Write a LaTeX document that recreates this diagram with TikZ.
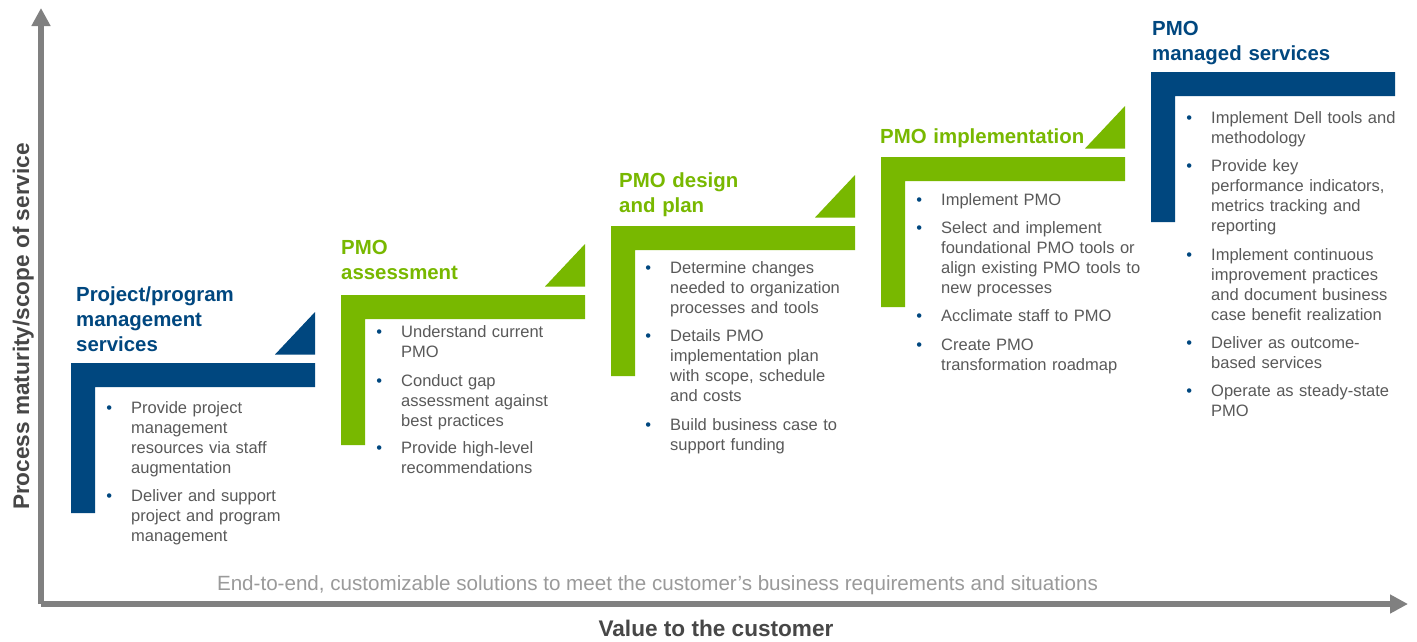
\documentclass[tikz,border=0pt]{standalone}
\usepackage{fontspec}
\setmainfont{Liberation Sans}
\usetikzlibrary{arrows.meta}
\definecolor{dblue}{HTML}{00477F}
\definecolor{dgreen}{HTML}{78B800}
\definecolor{axisgray}{HTML}{808080}
\definecolor{txtgray}{HTML}{595959}
\definecolor{notegray}{HTML}{9A9A9A}
\newcommand{\bulmark}{\llap{\textcolor{dblue}{•}\hspace{19pt}}}
\begin{document}
\begin{tikzpicture}[x=1pt,y=-1pt,
  titletext/.style={anchor=base west, text width=260pt, align=left, inner sep=0pt, font=\bfseries\fontsize{20.4}{25}\selectfont},
  bullettext/.style={anchor=base west, text width=240pt, align=left, inner sep=0pt, font=\fontsize{16.5}{20}\selectfont, text=txtgray},
  axisline/.style={draw=axisgray, line width=5.5pt, -{Triangle[width=18pt,length=18pt]}},
  axislabel/.style={inner sep=0pt, font=\bfseries\fontsize{22.6}{27}\selectfont, text=txtgray!80!black},
  ]
\useasboundingbox[fill=white] (0,0) rectangle (1417,641);

% axes
\coordinate (origin) at (41,604);
\coordinate (ytip) at (41,8);
\coordinate (xtip) at (1408,604);
\draw[axisline] (origin) -- (ytip);
\draw[axisline] (origin) -- (xtip);

% steps: L shapes and triangles
\foreach \xo/\yt/\col in {71/363/dblue, 341/295/dgreen, 611/226/dgreen, 881/157/dgreen, 1151/72/dblue}{
  \fill[\col] (\xo,\yt) -- (\xo+244,\yt) -- (\xo+244,\yt+24) -- (\xo+24,\yt+24) -- (\xo+24,\yt+150) -- (\xo,\yt+150) -- cycle;
}
\foreach \xo/\yt/\col in {71/363/dblue, 341/295/dgreen, 611/226/dgreen, 881/157/dgreen}{
  \fill[\col] (\xo+204,\yt-8.5) -- (\xo+244,\yt-8.5) -- (\xo+244,\yt-51) -- cycle;
}

% titles
\node[titletext, text=dblue] (t1) at (76,301) {Project/program\\management\\services};
\node[titletext, text=dgreen] (t2) at (341,254) {PMO\\assessment};
\node[titletext, text=dgreen] (t3) at (619,187) {PMO design\\and plan};
\node[titletext, text=dgreen] (t4) at (880,143) {PMO implementation};
\node[titletext, text=dblue] (t5) at (1152,35) {PMO\\managed services};

% step 1 bullets
\node[bullettext] (b11) at (131,413) {\bulmark Provide project\\management\\resources via staff\\augmentation};
\node[bullettext] (b12) at (131,501) {\bulmark Deliver and support\\project and program\\management};
% step 2 bullets
\node[bullettext] (b21) at (401,337) {\bulmark Understand current\\PMO};
\node[bullettext] (b22) at (401,386) {\bulmark Conduct gap\\assessment against\\best practices};
\node[bullettext] (b23) at (401,453) {\bulmark Provide high-level\\recommendations};
% step 3 bullets
\node[bullettext] (b31) at (670,273) {\bulmark Determine changes\\needed to organization\\processes and tools};
\node[bullettext] (b32) at (670,341.5) {\bulmark Details PMO\\implementation plan\\with scope, schedule\\and costs};
\node[bullettext] (b33) at (670,430) {\bulmark Build business case to\\support funding};
% step 4 bullets
\node[bullettext] (b41) at (941,205) {\bulmark Implement PMO};
\node[bullettext] (b42) at (941,233) {\bulmark Select and implement\\foundational PMO tools or\\align existing PMO tools to\\new processes};
\node[bullettext] (b43) at (941,321.5) {\bulmark Acclimate staff to PMO};
\node[bullettext] (b44) at (941,350) {\bulmark Create PMO\\transformation roadmap};
% step 5 bullets
\node[bullettext] (b51) at (1211,123) {\bulmark Implement Dell tools and\\methodology};
\node[bullettext] (b52) at (1211,171.5) {\bulmark Provide key\\performance indicators,\\metrics tracking and\\reporting};
\node[bullettext] (b53) at (1211,260) {\bulmark Implement continuous\\improvement practices\\and document business\\case benefit realization};
\node[bullettext] (b54) at (1211,348) {\bulmark Deliver as outcome-\\based services};
\node[bullettext] (b55) at (1211,396.5) {\bulmark Operate as steady-state\\PMO};

% bottom note and axis labels
\node[anchor=base, inner sep=0pt, font=\fontsize{20.6}{24}\selectfont, text=notegray] (note) at (657.5,590) {End-to-end, customizable solutions to meet the customer’s business requirements and situations};
\node[axislabel, anchor=base] (xlabel) at (716,636) {Value to the customer};
\node[axislabel, anchor=base, rotate=90] (ylabel) at (29,326.5) {Process maturity/scope of service};
\end{tikzpicture}
\end{document}
